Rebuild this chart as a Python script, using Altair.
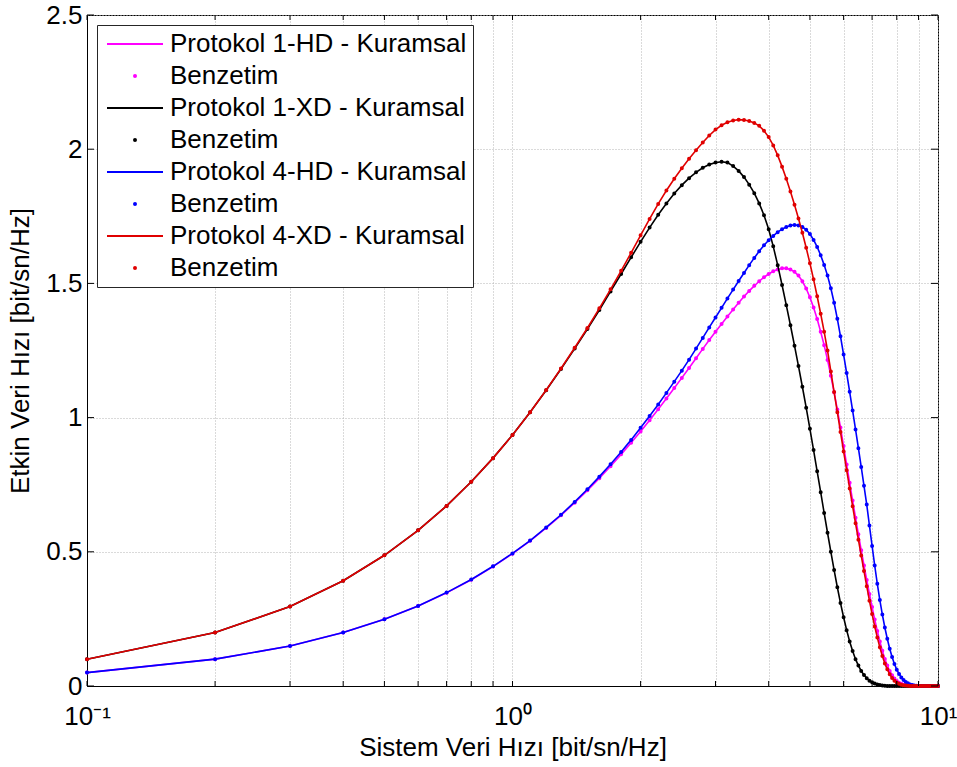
import altair as alt
import pandas as pd

# ---------------- data ----------------
x_vals = [0.1, 0.2, 0.3, 0.4, 0.5, 0.6, 0.7, 0.8, 0.9, 1.0,
          1.1, 1.2, 1.3, 1.4, 1.5, 1.6, 1.7, 1.8, 1.9, 2.0,
          2.1, 2.2, 2.3, 2.4, 2.5, 2.6, 2.7, 2.8, 2.9, 3.0,
          3.1, 3.2, 3.3, 3.4, 3.5, 3.6, 3.7, 3.8, 3.9, 4.0,
          4.1, 4.2, 4.3, 4.4, 4.5, 4.6, 4.7, 4.8, 4.9, 5.0,
          5.1, 5.2, 5.3, 5.4, 5.5, 5.6, 5.7, 5.8, 5.9, 6.0,
          6.1, 6.2, 6.3, 6.4, 6.5, 6.6, 6.7, 6.8, 6.9, 7.0,
          7.1, 7.2, 7.3, 7.4, 7.5, 7.6, 7.7, 7.8, 7.9, 8.0,
          8.1, 8.2, 8.3, 8.4, 8.5, 8.6, 8.7, 8.8, 8.9, 9.0,
          9.1, 9.2, 9.3, 9.4, 9.5, 9.6, 9.7, 9.8, 9.9, 10.0]

p1_hd = [0.050, 0.100, 0.149, 0.199, 0.249, 0.298, 0.347, 0.396, 0.445, 0.493,
         0.541, 0.589, 0.636, 0.683, 0.729, 0.774, 0.819, 0.863, 0.906, 0.948,
         0.990, 1.031, 1.071, 1.110, 1.148, 1.185, 1.221, 1.256, 1.289, 1.320,
         1.349, 1.377, 1.403, 1.428, 1.451, 1.472, 1.491, 1.508, 1.523, 1.535,
         1.545, 1.552, 1.556, 1.556, 1.552, 1.543, 1.529, 1.508, 1.481, 1.448,
         1.410, 1.367, 1.320, 1.270, 1.215, 1.156, 1.094, 1.030, 0.963, 0.894,
         0.825, 0.757, 0.691, 0.627, 0.565, 0.506, 0.449, 0.395, 0.343, 0.294,
         0.248, 0.205, 0.166, 0.131, 0.101, 0.076, 0.056, 0.040, 0.028, 0.019,
         0.012, 0.008, 0.005, 0.003, 0.002, 0.001, 0.0, 0.0, 0.0, 0.0,
         0.0, 0.0, 0.0, 0.0, 0.0, 0.0, 0.0, 0.0, 0.0, 0.0]

p1_xd = [0.100, 0.199, 0.296, 0.392, 0.487, 0.580, 0.671, 0.761, 0.849, 0.935,
         1.020, 1.102, 1.181, 1.257, 1.330, 1.401, 1.470, 1.535, 1.597, 1.655,
         1.708, 1.756, 1.798, 1.835, 1.866, 1.892, 1.914, 1.931, 1.943, 1.950,
         1.953, 1.950, 1.937, 1.919, 1.896, 1.868, 1.836, 1.798, 1.754, 1.702,
         1.638, 1.568, 1.494, 1.419, 1.344, 1.268, 1.192, 1.115, 1.037, 0.958,
         0.879, 0.800, 0.722, 0.645, 0.571, 0.500, 0.432, 0.368, 0.309, 0.256,
         0.208, 0.166, 0.130, 0.100, 0.076, 0.056, 0.041, 0.029, 0.020, 0.014,
         0.009, 0.006, 0.004, 0.002, 0.001, 0.0, 0.0, 0.0, 0.0, 0.0,
         0.0, 0.0, 0.0, 0.0, 0.0, 0.0, 0.0, 0.0, 0.0, 0.0,
         0.0, 0.0, 0.0, 0.0, 0.0, 0.0, 0.0, 0.0, 0.0, 0.0]

p4_hd = [0.050, 0.100, 0.149, 0.199, 0.249, 0.298, 0.348, 0.397, 0.446, 0.494,
         0.542, 0.591, 0.638, 0.686, 0.733, 0.780, 0.826, 0.872, 0.917, 0.962,
         1.006, 1.049, 1.092, 1.134, 1.175, 1.216, 1.257, 1.297, 1.336, 1.373,
         1.409, 1.444, 1.477, 1.509, 1.539, 1.568, 1.595, 1.620, 1.642, 1.661,
         1.677, 1.691, 1.702, 1.710, 1.716, 1.718, 1.716, 1.710, 1.700, 1.684,
         1.662, 1.636, 1.605, 1.569, 1.529, 1.482, 1.428, 1.368, 1.303, 1.235,
         1.166, 1.096, 1.026, 0.956, 0.886, 0.816, 0.746, 0.676, 0.598, 0.522,
         0.449, 0.381, 0.320, 0.266, 0.218, 0.176, 0.139, 0.108, 0.082, 0.061,
         0.045, 0.032, 0.022, 0.015, 0.010, 0.006, 0.004, 0.002, 0.001, 0.0,
         0.0, 0.0, 0.0, 0.0, 0.0, 0.0, 0.0, 0.0, 0.0, 0.0]

p4_xd = [0.100, 0.199, 0.296, 0.392, 0.487, 0.580, 0.671, 0.761, 0.849, 0.935,
         1.020, 1.103, 1.183, 1.260, 1.334, 1.407, 1.478, 1.547, 1.614, 1.679,
         1.740, 1.796, 1.846, 1.890, 1.929, 1.964, 1.996, 2.025, 2.051, 2.073,
         2.089, 2.100, 2.107, 2.110, 2.109, 2.105, 2.098, 2.087, 2.069, 2.045,
         2.014, 1.977, 1.935, 1.890, 1.842, 1.793, 1.742, 1.689, 1.633, 1.575,
         1.515, 1.452, 1.387, 1.320, 1.250, 1.172, 1.095, 1.020, 0.946, 0.874,
         0.804, 0.736, 0.670, 0.606, 0.545, 0.486, 0.428, 0.372, 0.318, 0.268,
         0.222, 0.181, 0.144, 0.112, 0.084, 0.062, 0.044, 0.030, 0.020, 0.013,
         0.008, 0.005, 0.003, 0.002, 0.001, 0.0, 0.0, 0.0, 0.0, 0.0,
         0.0, 0.0, 0.0, 0.0, 0.0, 0.0, 0.0, 0.0, 0.0, 0.0]

series_names = ["Protokol 1-HD", "Protokol 1-XD", "Protokol 4-HD", "Protokol 4-XD"]
series_colors = ["#ff00ff", "#000000", "#0000ff", "#e00000"]
series_values = [p1_hd, p1_xd, p4_hd, p4_xd]

x_tick_values = [0.1, 0.2, 0.3, 0.4, 0.5, 0.6, 0.7, 0.8, 0.9,
                 1, 2, 3, 4, 5, 6, 7, 8, 9, 10]
y_tick_values = [0, 0.5, 1, 1.5, 2, 2.5]

x_title = "Sistem Veri Hızı [bit/sn/Hz]"
y_title = "Etkin Veri Hızı [bit/sn/Hz]"

# ---------------- build table ----------------
rows = []
keys, colors, shapes = [], [], []
for name, col, vals in zip(series_names, series_colors, series_values):
    k_line = f"{name} - Kuramsal"
    k_sim = f"{name} - Benzetim"
    keys += [k_line, k_sim]
    colors += [col, col]
    shapes += ["M-28,0H28", "circle"]
    for xv, yv in zip(x_vals, vals):
        rows.append({"x": xv, "y": yv, "key": k_line})
        rows.append({"x": xv, "y": yv, "key": k_sim})
df = pd.DataFrame(rows)

W, H = 851, 671
FONT = "Liberation Sans"

x_scale = alt.Scale(type="log", domain=[0.1, 10], nice=False)
y_scale = alt.Scale(domain=[0, 2.5], nice=False, zero=False)

legend = alt.Legend(
    title=None, orient="top-left", offset=10, padding=6,
    fillColor="white", strokeColor="#262626",
    symbolSize=4, symbolStrokeWidth=2, symbolOffset=19,
    labelOffset=22, labelFontSize=26, labelFont=FONT, labelColor="black",
    labelLimit=600, rowPadding=6,
    labelExpr="substring(datum.label, length(datum.label) - 8) == 'Benzetim' ? 'Benzetim' : datum.label",
)

x_axis = alt.Axis(
    values=x_tick_values, title=x_title,
    labelExpr="datum.value == 0.1 ? '10⁻¹' : (datum.value == 1 ? '10⁰' : (datum.value == 10 ? '10¹' : ''))",
    labelFlush=False, labelOverlap=False, labelFontSize=26, labelPadding=17,
    tickSize=0, grid=True, gridDash=[1, 2], gridColor="#b4b4b4", gridWidth=1,
    domainColor="black", titlePadding=5,
)
y_axis = alt.Axis(
    values=y_tick_values, title=y_title, format="~g",
    labelFontSize=26, labelPadding=5, tickSize=0,
    grid=True, gridDash=[1, 2], gridColor="#b4b4b4", gridWidth=1,
    domainColor="black", titlePadding=12,
)

base = alt.Chart(df)
layers = []
for name in series_names:
    k_line = f"{name} - Kuramsal"
    k_sim = f"{name} - Benzetim"
    line = base.transform_filter(alt.datum.key == k_line).mark_line(strokeWidth=1.6).encode(
        x=alt.X("x:Q", scale=x_scale, axis=x_axis),
        y=alt.Y("y:Q", scale=y_scale, axis=y_axis),
        color=alt.Color("key:N", scale=alt.Scale(domain=keys, range=colors), legend=legend),
    )
    pts = base.transform_filter(alt.datum.key == k_sim).mark_point(
        filled=False, size=4, strokeWidth=2, opacity=1).encode(
        x=alt.X("x:Q", scale=x_scale, axis=x_axis),
        y=alt.Y("y:Q", scale=y_scale, axis=y_axis),
        color=alt.Color("key:N", scale=alt.Scale(domain=keys, range=colors), legend=legend),
        shape=alt.Shape("key:N", scale=alt.Scale(domain=keys, range=shapes), legend=legend),
    )
    layers += [line, pts]

# inward tick marks of the box
xt = pd.DataFrame({"x": x_tick_values})
yt = pd.DataFrame({"y": y_tick_values})
tick_bottom = alt.Chart(xt).mark_rule(color="black", strokeWidth=1).encode(
    x=alt.X("x:Q", scale=x_scale, axis=x_axis), y=alt.value(H), y2=alt.value(H - 5))
tick_top = alt.Chart(xt).mark_rule(color="black", strokeWidth=1).encode(
    x=alt.X("x:Q", scale=x_scale, axis=x_axis), y=alt.value(0), y2=alt.value(5))
tick_left = alt.Chart(yt).mark_rule(color="black", strokeWidth=1).encode(
    y=alt.Y("y:Q", scale=y_scale, axis=y_axis), x=alt.value(0), x2=alt.value(7))
tick_right = alt.Chart(yt).mark_rule(color="black", strokeWidth=1).encode(
    y=alt.Y("y:Q", scale=y_scale, axis=y_axis), x=alt.value(W - 7), x2=alt.value(W))

chart = alt.layer(*layers, tick_bottom, tick_top, tick_left, tick_right).properties(
    width=W, height=H,
    autosize=alt.AutoSizeParams(type="none"),
    padding={"left": 87, "top": 15, "right": 19, "bottom": 81},
    background="white",
).configure_view(
    stroke="black", strokeWidth=1,
).configure_axis(
    labelFont=FONT, titleFont=FONT, labelColor="black", titleColor="black",
    titleFontSize=26, titleFontWeight="normal",
)

chart.save("out.html", embed_options={"renderer": "svg", "actions": False})
